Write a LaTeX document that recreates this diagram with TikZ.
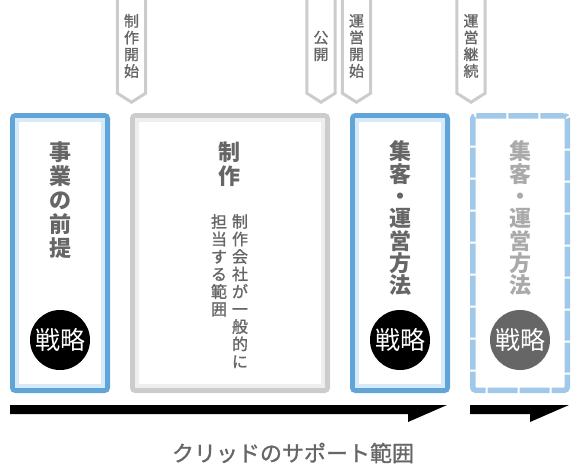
\documentclass[tikz,border=0pt]{standalone}
\usepackage{fontspec}
\setmainfont{Noto Sans CJK JP}
\newfontfamily\midfont{Noto Sans CJK JP}[FakeBold=1.2]
\usepackage{tikz}
\usetikzlibrary{calc}
\definecolor{planblue}{RGB}{96,164,216}
\definecolor{paleblue}{RGB}{214,234,249}
\definecolor{dashblue}{RGB}{161,200,232}
\definecolor{framegrey}{RGB}{204,204,204}
\definecolor{palegrey}{RGB}{238,238,238}
\definecolor{textgrey}{RGB}{102,102,102}
\definecolor{fadegrey}{RGB}{170,170,170}
\tikzset{
outerframe/.style={draw=planblue, line width=5, rounded corners=3, minimum width=95, minimum height=275, fill=white},
innerframe/.style={draw=paleblue, line width=4, minimum width=86, minimum height=266},
heading/.style={text=textgrey, align=center, inner sep=0, font=\fontsize{22}{22.3}\selectfont\bfseries},
strategy/.style={shape=circle, fill=black, text=white, minimum size=60, inner sep=0, font=\fontsize{25}{25}\selectfont},
tagtext/.style={text=textgrey, align=center, inner sep=0, minimum width=28, minimum height=94, font=\fontsize{15}{16.7}\selectfont\midfont},
tagline/.style={draw=framegrey, line width=3},
note/.style={text=textgrey, align=center, inner sep=0, anchor=north, font=\fontsize{16}{17.5}\selectfont\midfont}}

\begin{document}
\begin{tikzpicture}[x=1pt, y=-1pt]
    \useasboundingbox (0,0) rectangle (580,464);

    \node[outerframe] (pre) at (60,253) {};
    \node[innerframe] at (pre) {};
    \node[outerframe, draw=framegrey, minimum width=195] (make) at (230,253) {};
    \node[innerframe, draw=palegrey, minimum width=186] at (make) {};
    \node[outerframe] (run) at (400,253) {};
    \node[innerframe] at (run) {};
    \node[outerframe, draw=dashblue, line width=5.5, minimum width=94.5, minimum height=274.5, dash pattern=on 30 off 2, dash phase=6] (keep) at (520,253) {};

    \node[heading, font=\fontsize{22}{24}\selectfont\bfseries] (pretext) at (60,200) {事\\業\\の\\前\\提};
    \node[heading, font=\fontsize{22}{24}\selectfont\bfseries] (maketext) at (229,164) {制\\作};
    \node[note] (makenote1) at (240,214) {制\\作\\会\\社\\が\\一\\般\\的\\に};
    \node[note] (makenote2) at (219,214) {担\\当\\す\\る\\範\\囲};
    \node[heading] (runtext) at (400,218.5) {集\\客\\・\\運\\営\\方\\法};
    \node[heading, text=fadegrey] (keeptext) at (520,218.5) {集\\客\\・\\運\\営\\方\\法};

    \node[strategy] (s1) at (60,340) {戦略};
    \node[strategy] (s3) at (400,340) {戦略};
    \node[strategy, fill=textgrey] (s4) at (520,340) {戦略};

    \node[tagtext] (t1) at (131.5,46) {制\\作\\開\\始};
    \node[tagtext] (t2) at (321,46) {公\\開};
    \node[tagtext] (t3) at (356.5,46) {運\\営\\開\\始};
    \node[tagtext] (t4) at (471,46) {運\\営\\継\\続};
    \foreach \t in {t1,t2,t3,t4}
        \draw[tagline] (\t.north west) -- (\t.south west) -- ($(\t.south)+(0,9)$) -- (\t.south east) -- (\t.north east);

    \fill (10,405) -- (447,405) -- (408,422) -- (408,414) -- (10,414) -- cycle;
    \fill (470,405) -- (569,405) -- (530,422) -- (530,414) -- (470,414) -- cycle;

    \node[text=textgrey, inner sep=0, font=\fontsize{22}{22}\selectfont\midfont] (range) at (293,453) {クリッドのサポート範囲};

\end{tikzpicture}
\end{document}
